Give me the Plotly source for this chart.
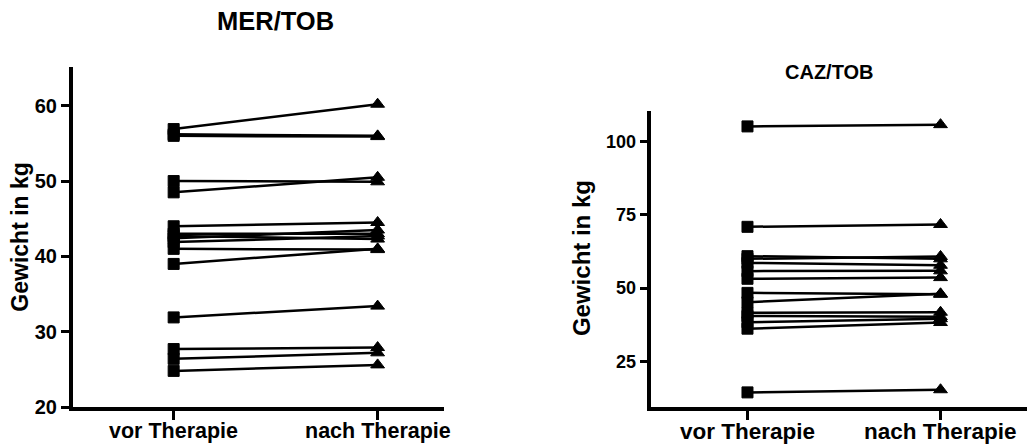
import plotly.graph_objects as go

categories = ["vor Therapie", "nach Therapie"]

# MER/TOB: weight before / after therapy (kg), one entry per patient
mer_vor = [56.9, 56.2, 56.0, 50.0, 48.5, 44.0, 43.0, 42.7, 42.4, 41.9, 41.0, 39.0, 31.9, 27.7, 26.4, 24.8]
mer_nach = [60.2, 56.0, 55.9, 49.9, 50.5, 44.5, 43.0, 42.3, 43.5, 42.7, 40.9, 41.0, 33.4, 27.9, 27.2, 25.6]

# CAZ/TOB
caz_vor = [105.1, 70.9, 60.9, 60.0, 58.6, 55.8, 53.2, 48.4, 45.2, 41.6, 40.5, 38.4, 36.2, 14.5]
caz_nach = [105.7, 71.7, 60.0, 60.8, 57.8, 55.9, 53.6, 47.9, 48.1, 41.8, 40.3, 39.6, 38.3, 15.4]

mer_yticks = [20, 30, 40, 50, 60]
caz_yticks = [25, 50, 75, 100]

W, H = 1027, 445
# effective drawing size observed in the rendered page
WE, HE = 1017, 435
FONT = "Liberation Sans, Arial, sans-serif"

fig = go.Figure()

def add_pairs(vor, nach, xa, ya):
    for a, b in zip(vor, nach):
        fig.add_trace(go.Scatter(
            x=[0, 1], y=[a, b], xaxis=xa, yaxis=ya,
            mode="lines+markers", opacity=1,
            line=dict(color="black", width=2.5),
            marker=dict(symbol=["square", "triangle-up"], size=[11, 12],
                        color="black", opacity=1,
                        line=dict(width=1, color="black")),
            showlegend=False, hoverinfo="y", cliponaxis=False,
        ))

add_pairs(mer_vor, mer_nach, "x", "y")
add_pairs(caz_vor, caz_nach, "x2", "y2")

def px_x(p):
    return min(p / WE, 1.0)

def px_y(p):
    return max(1 - p / HE, 0.0)

def axis_style(size):
    return dict(
        showline=True, linecolor="black", linewidth=3.5,
        ticks="outside", tickcolor="black", tickwidth=3,
        showgrid=False, zeroline=False,
        tickfont=dict(family=FONT, size=size, color="black", weight="bold"),
    )

def cat_labels(xref, size):
    return [dict(text="<b>%s</b>" % c, x=i, y=px_y(432), xref=xref, yref="paper",
                 xanchor="center", yanchor="middle", showarrow=False,
                 font=dict(family=FONT, size=size, color="black"))
            for i, c in enumerate(categories)]

fig.update_layout(
    width=W, height=H, autosize=False,
    margin=dict(l=0, r=0, t=0, b=0),
    paper_bgcolor="white", plot_bgcolor="white",
    xaxis=dict(domain=[px_x(72), px_x(440)], range=[-0.495, 1.327],
               tickvals=[0, 1], ticktext=categories, showticklabels=False, ticklen=9,
               anchor="y", **axis_style(21.5)),
    yaxis=dict(domain=[px_y(408), px_y(66.7)], range=[20, 65.2],
               tickvals=mer_yticks, ticklen=8, anchor="x", **axis_style(20)),
    xaxis2=dict(domain=[px_x(645), 1.0], range=[-0.498, 1.448],
                tickvals=[0, 1], ticktext=categories, showticklabels=False, ticklen=9,
                anchor="y2", **axis_style(22.5)),
    yaxis2=dict(domain=[px_y(408.3), px_y(111.7)], range=[9.4, 110.2],
                tickvals=caz_yticks, ticklen=8, anchor="x2", **axis_style(18)),
    annotations=[
        dict(text="<b>MER/TOB</b>", x=px_x(273), y=px_y(21), xref="paper", yref="paper",
             xanchor="center", yanchor="middle",
             showarrow=False, font=dict(family=FONT, size=25.5, color="black")),
        dict(text="<b>CAZ/TOB</b>", x=px_x(821), y=px_y(72), xref="paper", yref="paper",
             xanchor="center", yanchor="middle",
             showarrow=False, font=dict(family=FONT, size=20, color="black")),
        dict(text="<b>Gewicht in kg</b>", x=px_x(20), y=px_y(237), xref="paper", yref="paper",
             xanchor="center", yanchor="middle",
             showarrow=False, textangle=-90, font=dict(family=FONT, size=23, color="black")),
        dict(text="<b>Gewicht in kg</b>", x=px_x(576), y=px_y(259), xref="paper", yref="paper",
             xanchor="center", yanchor="middle",
             showarrow=False, textangle=-90, font=dict(family=FONT, size=24, color="black")),
    ] + cat_labels("x", 21.5) + cat_labels("x2", 22.5),
)

fig.write_html(
    "out.html",
    config={"responsive": False, "displayModeBar": False},
    post_script="document.body.style.margin='0px';document.body.style.overflow='hidden';",
)
